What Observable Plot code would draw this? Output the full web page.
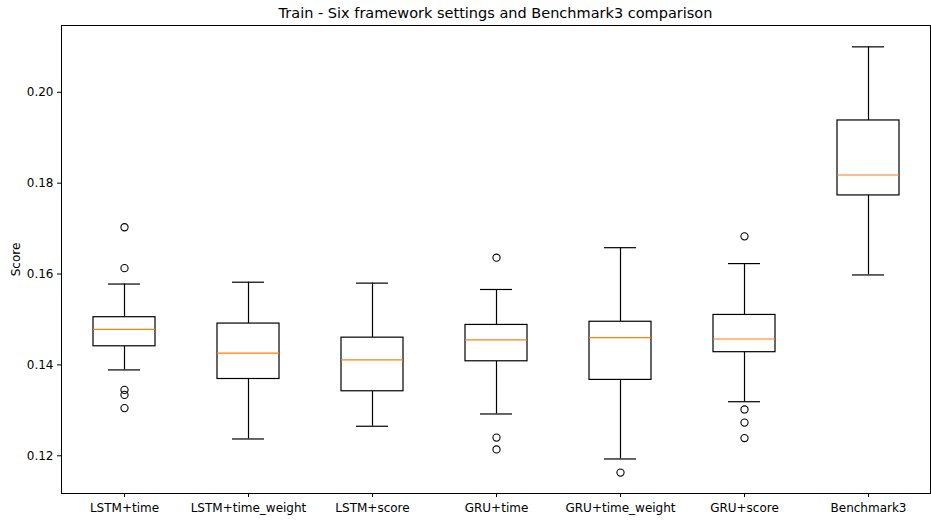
<!DOCTYPE html>
<html>
<head>
<meta charset="utf-8">
<script src="https://cdn.jsdelivr.net/npm/d3@7"></script>
<script src="https://cdn.jsdelivr.net/npm/@observablehq/plot@0.6"></script>
<style>
  body { margin: 0; background: #fff; font-family: "DejaVu Sans", sans-serif; overflow: hidden; }
  #title { height: 18px; line-height: 26px; text-align: center; font-size: 14.5px; color: #000; width: 931px; padding-left: 60px; box-sizing: border-box; }
</style>
</head>
<body>
<div id="title">Train - Six framework settings and Benchmark3 comparison</div>
<div id="chart"></div>
<script>
const categories = ["LSTM+time", "LSTM+time_weight", "LSTM+score", "GRU+time", "GRU+time_weight", "GRU+score", "Benchmark3"];
const whiskerLow  = [0.1389, 0.1237, 0.1265, 0.1292, 0.1193, 0.1319, 0.1598];
const q1          = [0.1441, 0.1369, 0.1342, 0.1408, 0.1367, 0.1428, 0.1773];
const median      = [0.1478, 0.1426, 0.1411, 0.1455, 0.1460, 0.1457, 0.1818];
const q3          = [0.1505, 0.1491, 0.1460, 0.1488, 0.1495, 0.1510, 0.1938];
const whiskerHigh = [0.1578, 0.1582, 0.1580, 0.1566, 0.1658, 0.1623, 0.2100];
const outliers = [
  [0.1703, 0.1613, 0.1345, 0.1334, 0.1305],
  [],
  [],
  [0.1636, 0.1240, 0.1214],
  [0.1163],
  [0.1683, 0.1302, 0.1273, 0.1239],
  []
];
const yTicks = [0.12, 0.14, 0.16, 0.18, 0.20];

const boxes = categories.map((c, i) => ({cat: c, lo: whiskerLow[i], q1: q1[i], med: median[i], q3: q3[i], hi: whiskerHigh[i]}));
const fliers = categories.flatMap((c, i) => outliers[i].map(v => ({cat: c, v})));

const W = 931, H = 503;
const chart = Plot.plot({
  width: W,
  height: H,
  marginLeft: 61,
  marginRight: 1,
  marginTop: 7,
  marginBottom: 28,
  style: {fontFamily: "DejaVu Sans, sans-serif", fontSize: "12px", color: "#000", background: "#fff"},
  x: {domain: categories, padding: 0, label: null},
  y: {domain: [0.1117, 0.2147], label: null},
  marks: [
    Plot.ruleX(boxes, {x: "cat", y1: "q3", y2: "hi", stroke: "#000", strokeWidth: 1.2}),
    Plot.ruleX(boxes, {x: "cat", y1: "lo", y2: "q1", stroke: "#000", strokeWidth: 1.2}),
    Plot.tickY(boxes, {x: "cat", y: "hi", stroke: "#000", strokeWidth: 1.2, insetLeft: 46, insetRight: 46}),
    Plot.tickY(boxes, {x: "cat", y: "lo", stroke: "#000", strokeWidth: 1.2, insetLeft: 46, insetRight: 46}),
    Plot.rectY(boxes, {x: "cat", y1: "q1", y2: "q3", fill: "#fff", stroke: "#000", strokeWidth: 1.2, insetLeft: 31, insetRight: 31}),
    Plot.tickY(boxes, {x: "cat", y: "med", stroke: "#ff7f0e", strokeWidth: 1.2, insetLeft: 31, insetRight: 31}),
    Plot.dot(fliers, {x: "cat", y: "v", r: 3.6, stroke: "#000", fill: "none", strokeWidth: 1.1}),
    Plot.frame({stroke: "#000", strokeWidth: 1}),
    Plot.axisY({ticks: yTicks, tickFormat: d3.format(".2f"), tickSize: 4, tickPadding: 4, label: "Score", labelAnchor: "center", labelOffset: 50, labelArrow: "none", fontSize: 12}),
    Plot.axisX({tickSize: 4, tickPadding: 6, label: null, fontSize: 12})
  ]
});
document.getElementById("chart").appendChild(chart);
</script>
</body>
</html>
